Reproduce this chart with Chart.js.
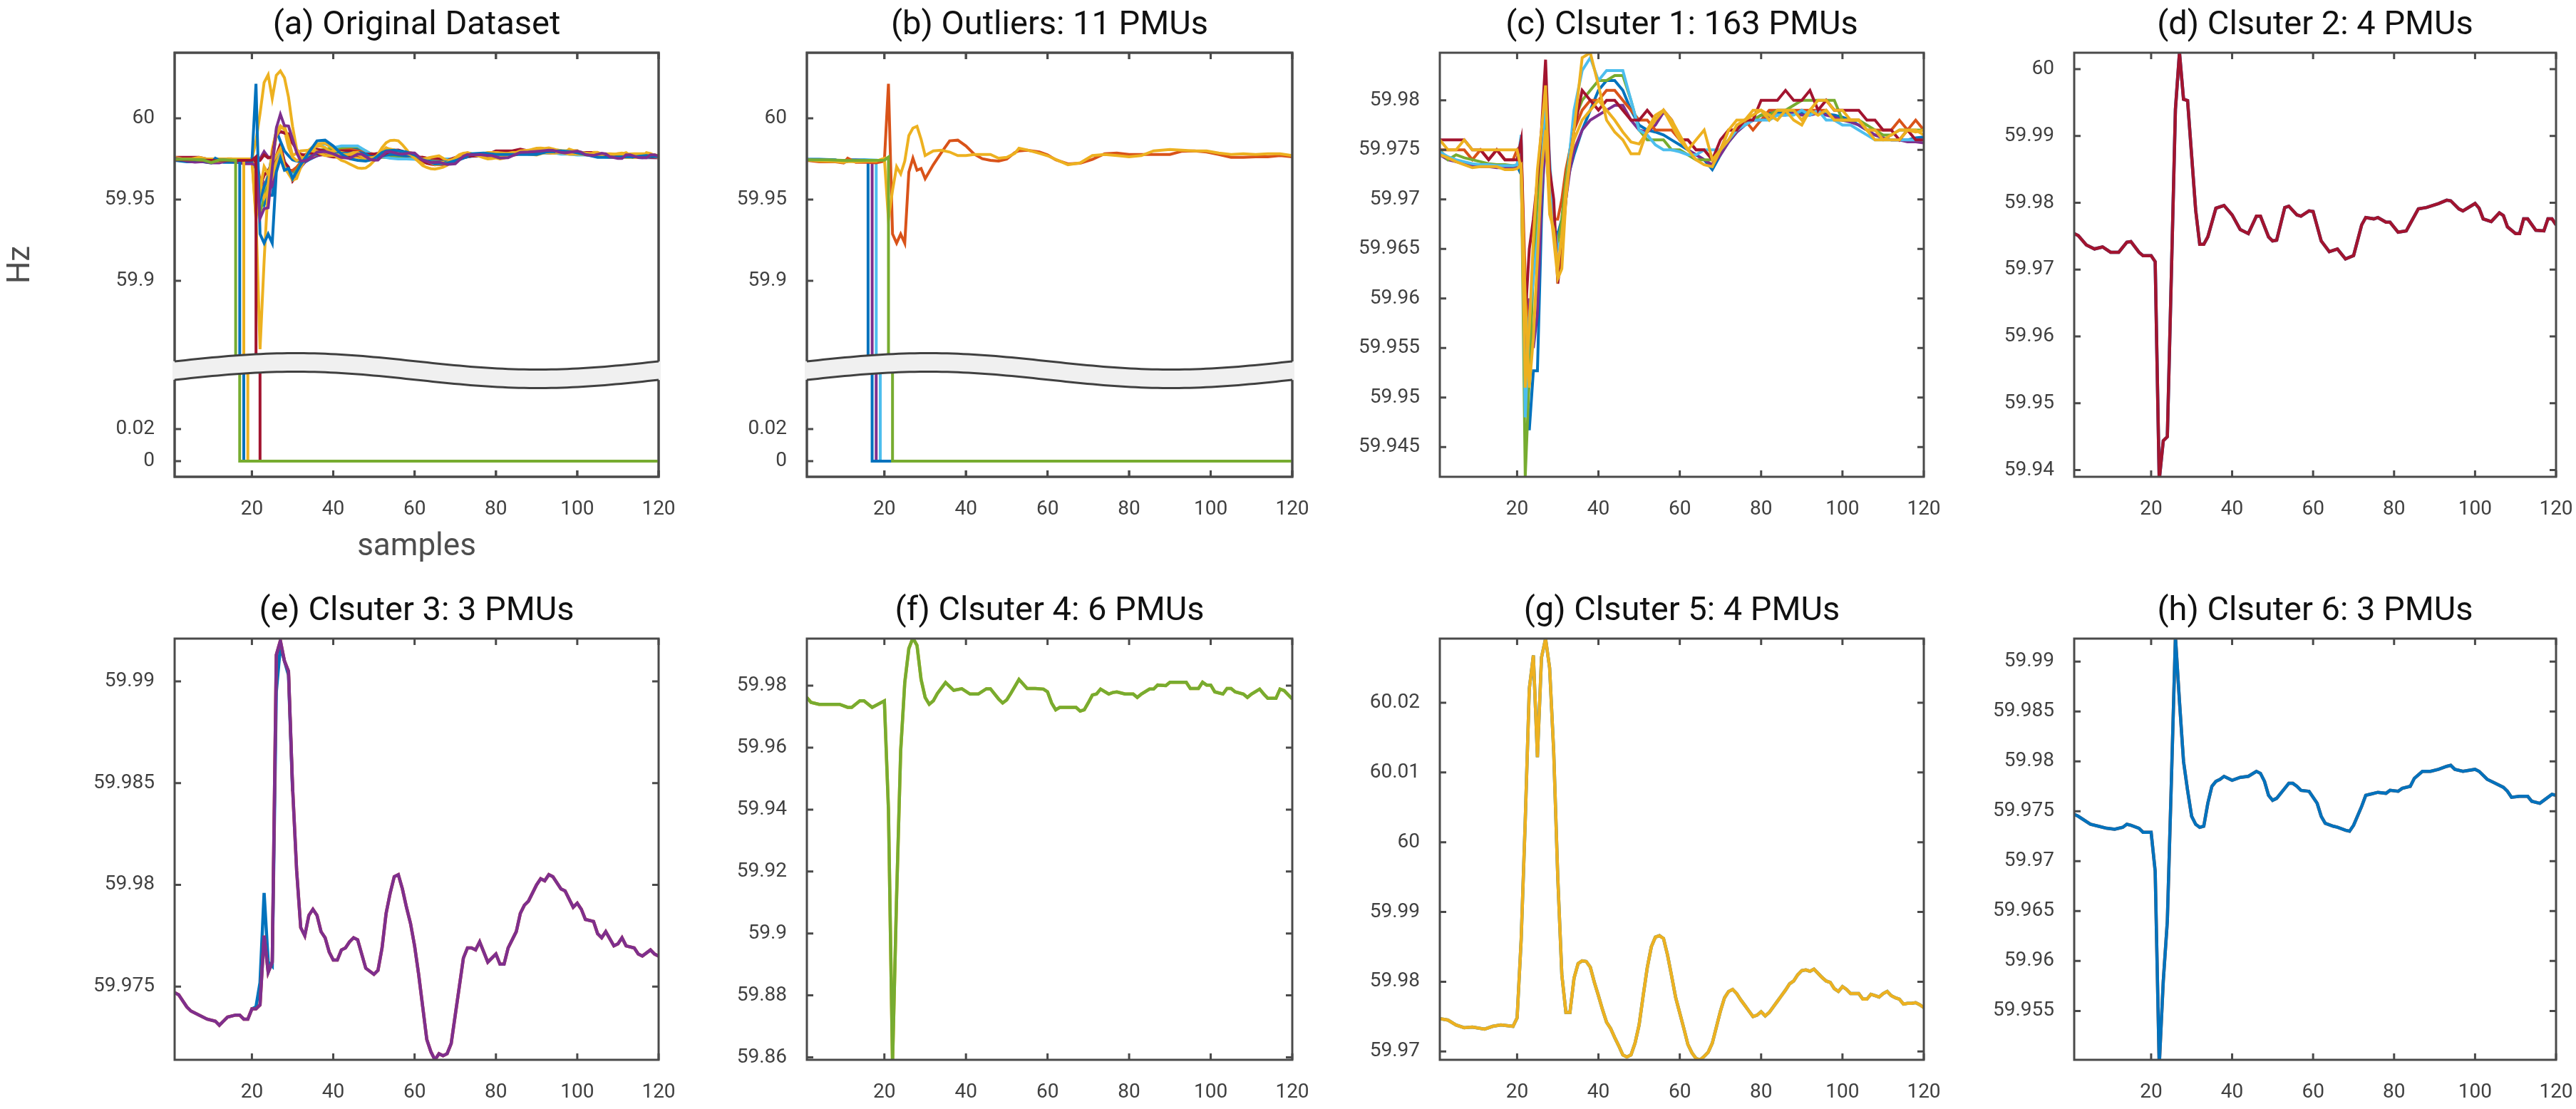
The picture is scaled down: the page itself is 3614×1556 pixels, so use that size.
<!DOCTYPE html>
<html>
<head>
<meta charset="utf-8">
<title>PMU clusters</title>
<script src="https://cdn.jsdelivr.net/npm/chart.js@4.4.1/dist/chart.umd.min.js"></script>
<style>
  body { margin: 0; background: #fff; width: 3614px; height: 1556px; position: relative; overflow: hidden; }
  canvas { position: absolute; }
</style>
</head>
<body>
<script>
// ---- tick labels ----
const sampleTicks = [20, 40, 60, 80, 100, 120];
const brokenUpperTicks = [59.9, 59.95, 60];
const brokenLowerTicks = [0, 0.02];
const clusterOneTicks = [59.945, 59.95, 59.955, 59.96, 59.965, 59.97, 59.975, 59.98];
const clusterTwoTicks = [59.94, 59.95, 59.96, 59.97, 59.98, 59.99, 60];
const clusterThreeTicks = [59.975, 59.98, 59.985, 59.99];
const clusterFourTicks = [59.86, 59.88, 59.9, 59.92, 59.94, 59.96, 59.98];
const clusterFiveTicks = [59.97, 59.98, 59.99, 60, 60.01, 60.02];
const clusterSixTicks = [59.955, 59.96, 59.965, 59.97, 59.975, 59.98, 59.985, 59.99];

const titles = ['(a) Original Dataset', '(b) Outliers: 11 PMUs', '(c) Clsuter 1: 163 PMUs', '(d) Clsuter 2: 4 PMUs',
  '(e) Clsuter 3: 3 PMUs', '(f) Clsuter 4: 6 PMUs', '(g) Clsuter 5: 4 PMUs', '(h) Clsuter 6: 3 PMUs'];

// ---- outliers (b) ----
const dropBlueX = [1, 4, 8, 10, 12, 16, 17, 120];
const dropBlueHz = [59.9748, 59.9748, 59.9745, 59.9728, 59.9745, 59.9742, 0, 0];
const dropPurpleX = [1, 5, 9, 13, 17, 18, 120];
const dropPurpleHz = [59.9746, 59.9745, 59.9738, 59.9744, 59.9741, 0, 0];
const dropCyanX = [1, 6, 11, 15, 18, 19, 120];
const dropCyanHz = [59.9747, 59.9746, 59.9736, 59.9746, 59.9743, 0, 0];
const dropGreenX = [1, 6, 11, 16, 20, 21, 22, 120];
const dropGreenHz = [59.9745, 59.9745, 59.974, 59.9742, 59.9743, 59.9762, 0, 0];

const outlierX = [1, 4, 8, 10, 11, 13, 16, 18, 20, 21, 22, 23, 24, 25, 26, 27, 28, 29, 30, 32, 34, 36, 38, 40, 42, 44, 46, 48, 50, 52, 53, 55, 58, 60, 62, 65, 68, 71, 74, 77, 80, 83, 86, 90, 93, 96, 99, 102, 105, 108, 111, 114, 117, 120];
const outlierRedHz = [59.9742, 59.9733, 59.9733, 59.9726, 59.9755, 59.973, 59.973, 59.9726, 59.9737, 60.0213, 59.9288, 59.9232, 59.9288, 59.9232, 59.967, 59.9755, 59.9681, 59.9692, 59.9629, 59.9715, 59.979, 59.9862, 59.9866, 59.983, 59.978, 59.9752, 59.9742, 59.9737, 59.975, 59.979, 59.98, 59.9804, 59.9793, 59.9775, 59.9745, 59.972, 59.9724, 59.9748, 59.9782, 59.9787, 59.9778, 59.9778, 59.9778, 59.9778, 59.9798, 59.98, 59.9793, 59.9778, 59.976, 59.976, 59.9764, 59.9764, 59.9771, 59.9764];
const outlierYellowHz = [59.9745, 59.9738, 59.9735, 59.973, 59.9735, 59.9733, 59.9737, 59.9737, 59.9755, 59.9378, 59.9557, 59.9703, 59.9658, 59.9737, 59.9894, 59.994, 59.9951, 59.9872, 59.9771, 59.98, 59.9804, 59.9793, 59.9771, 59.9771, 59.9778, 59.9778, 59.9778, 59.9755, 59.976, 59.9785, 59.9816, 59.9806, 59.9785, 59.977, 59.9748, 59.9715, 59.9726, 59.9771, 59.9778, 59.9771, 59.9764, 59.9771, 59.98, 59.9809, 59.9804, 59.98, 59.98, 59.9787, 59.9778, 59.9782, 59.9778, 59.9782, 59.9782, 59.9771];

// ---- cluster 1 (c), representative PMUs ----
const clusterOneX = [1, 3, 5, 7, 9, 11, 13, 15, 17, 19, 20, 21, 22, 23, 24, 25, 26, 27, 28, 29, 30, 31, 32, 33, 34, 36, 38, 40, 42, 44, 46, 48, 50, 52, 54, 56, 58, 60, 62, 64, 66, 68, 70, 72, 74, 76, 78, 80, 82, 84, 86, 88, 90, 92, 94, 96, 98, 100, 102, 104, 106, 108, 110, 112, 114, 116, 118, 120];
const clusterOneWineHz = [59.976, 59.976, 59.976, 59.976, 59.975, 59.975, 59.974, 59.975, 59.974, 59.974,
  59.974, 59.976, 59.958, 59.965, 59.968, 59.972, 59.977, 59.9841, 59.973, 59.970, 59.9615, 59.965, 59.970, 59.974, 59.977,
  59.981, 59.980, 59.979, 59.980, 59.980, 59.979, 59.978, 59.978, 59.979, 59.978, 59.979, 59.978, 59.976, 59.976, 59.975, 59.975, 59.974, 59.976, 59.977, 59.977,
  59.978, 59.978, 59.980, 59.980, 59.980, 59.981, 59.980, 59.980, 59.981, 59.979, 59.980, 59.979, 59.979, 59.979, 59.979, 59.978, 59.978, 59.977, 59.977, 59.976, 59.977, 59.976, 59.976];
const clusterOneYellowHz = [59.976, 59.975, 59.975, 59.976, 59.975, 59.975, 59.975, 59.975, 59.975, 59.975,
  59.975, 59.973, 59.951, 59.957, 59.966, 59.973, 59.977, 59.9815, 59.970, 59.966, 59.962, 59.963, 59.970, 59.974, 59.977,
  59.9843, 59.9848, 59.9815, 59.978, 59.9768, 59.976, 59.9746, 59.9746, 59.977, 59.9785, 59.979, 59.978, 59.9765, 59.975, 59.974, 59.9735, 59.9733, 59.975, 59.977, 59.978,
  59.978, 59.979, 59.979, 59.978, 59.979, 59.979, 59.978, 59.9775, 59.979, 59.9785, 59.979, 59.978, 59.978, 59.978, 59.978, 59.977, 59.976, 59.976, 59.9765, 59.977, 59.977, 59.9768, 59.977];
const clusterOneBlueHz = [59.9748, 59.9742, 59.9738, 59.9737, 59.9735, 59.9734, 59.9734, 59.9733, 59.9733, 59.9733,
  59.9734, 59.9725, 59.953, 59.9467, 59.9527, 59.9527, 59.968, 59.978, 59.972, 59.967, 59.9665, 59.968, 59.971, 59.973, 59.9745,
  59.977, 59.979, 59.981, 59.982, 59.982, 59.981, 59.979, 59.9775, 59.977, 59.9768, 59.9765, 59.976, 59.9755, 59.975, 59.9745, 59.974, 59.973, 59.9745, 59.9758, 59.9768,
  59.9775, 59.978, 59.9785, 59.9787, 59.9788, 59.9788, 59.9788, 59.9787, 59.9787, 59.9788, 59.9786, 59.9785, 59.9783, 59.978, 59.9775, 59.977, 59.9765, 59.9762, 59.976, 59.976, 59.976, 59.9762, 59.9763];
const clusterOneOrangeHz = [59.975, 59.975, 59.975, 59.975, 59.974, 59.975, 59.974, 59.975, 59.974, 59.974,
  59.975, 59.9755, 59.962, 59.955, 59.964, 59.972, 59.976, 59.979, 59.972, 59.968, 59.968, 59.970, 59.973, 59.975, 59.977,
  59.979, 59.980, 59.980, 59.981, 59.981, 59.980, 59.979, 59.978, 59.978, 59.977, 59.977, 59.977, 59.976, 59.976, 59.975, 59.975, 59.974, 59.975, 59.977, 59.977,
  59.978, 59.977, 59.978, 59.979, 59.979, 59.979, 59.979, 59.979, 59.979, 59.979, 59.979, 59.978, 59.978, 59.978, 59.978, 59.977, 59.977, 59.977, 59.977, 59.978, 59.977, 59.978, 59.977];
const clusterOneGreenHz = [59.975, 59.974, 59.9745, 59.9742, 59.974, 59.9738, 59.9736, 59.9735, 59.9735, 59.9734,
  59.9735, 59.9745, 59.942, 59.952, 59.963, 59.970, 59.9745, 59.977, 59.970, 59.967, 59.9655, 59.968, 59.972, 59.975, 59.978,
  59.980, 59.981, 59.982, 59.982, 59.9825, 59.9825, 59.980, 59.977, 59.976, 59.976, 59.976, 59.975, 59.975, 59.9745, 59.974, 59.974, 59.974, 59.975, 59.976, 59.977,
  59.978, 59.978, 59.9785, 59.9785, 59.979, 59.979, 59.9795, 59.980, 59.980, 59.980, 59.980, 59.980, 59.978, 59.978, 59.978, 59.9775, 59.977, 59.9765, 59.9765, 59.977, 59.977, 59.977, 59.977];
const clusterOnePurpleHz = [59.9745, 59.974, 59.9738, 59.9736, 59.9734, 59.9733, 59.9733, 59.9732, 59.9732, 59.9731,
  59.9732, 59.976, 59.955, 59.960, 59.955, 59.9585, 59.970, 59.976, 59.970, 59.9665, 59.966, 59.967, 59.970, 59.973, 59.975,
  59.977, 59.978, 59.9785, 59.979, 59.9795, 59.9795, 59.978, 59.977, 59.9768, 59.9775, 59.9788, 59.978, 59.976, 59.975, 59.9745, 59.974, 59.9735, 59.9745, 59.9758, 59.9768,
  59.9775, 59.978, 59.978, 59.9783, 59.9785, 59.9785, 59.9787, 59.9785, 59.9785, 59.9787, 59.9785, 59.9783, 59.978, 59.9778, 59.9775, 59.977, 59.9765, 59.9762, 59.976, 59.976, 59.9758, 59.9758, 59.9757];
const clusterOneCyanHz = [59.9748, 59.9743, 59.974, 59.9738, 59.9736, 59.9735, 59.9735, 59.9734, 59.9734, 59.9734,
  59.9735, 59.9765, 59.948, 59.958, 59.962, 59.966, 59.972, 59.9818, 59.974, 59.968, 59.965, 59.966, 59.970, 59.975, 59.979,
  59.983, 59.9843, 59.982, 59.983, 59.983, 59.983, 59.980, 59.977, 59.9765, 59.9755, 59.975, 59.975, 59.9748, 59.9745, 59.9745, 59.975, 59.975, 59.975, 59.976, 59.977,
  59.9775, 59.978, 59.978, 59.978, 59.9785, 59.9785, 59.9785, 59.979, 59.9785, 59.979, 59.978, 59.978, 59.9775, 59.9775, 59.977, 59.9765, 59.976, 59.976, 59.976, 59.976, 59.976, 59.976, 59.976];
const clusterOneAmberHz = [59.9745, 59.9742, 59.9738, 59.9735, 59.9732, 59.9733, 59.9733, 59.9733, 59.973, 59.973,
  59.9731, 59.9735, 59.960, 59.951, 59.956, 59.964, 59.973, 59.977, 59.9685, 59.967, 59.963, 59.9665, 59.971, 59.974, 59.976,
  59.978, 59.979, 59.980, 59.979, 59.978, 59.9768, 59.9758, 59.9756, 59.9768, 59.978, 59.979, 59.9775, 59.976, 59.975, 59.976, 59.977, 59.974, 59.975, 59.976, 59.9775,
  59.978, 59.9785, 59.979, 59.9785, 59.978, 59.979, 59.979, 59.978, 59.979, 59.980, 59.980, 59.979, 59.979, 59.978, 59.978, 59.977, 59.977, 59.976, 59.976, 59.976, 59.977, 59.977, 59.9765];

// ---- cluster 2 (d) ----
const clusterTwoX = [1, 2, 4, 6, 8, 10, 12, 14, 15, 17, 18, 20, 21, 22, 23, 24, 25, 26, 27, 28, 29, 31, 32, 33, 34, 36, 38, 40, 42, 44, 46, 47, 49, 50, 51, 53, 54, 56, 57, 59, 60, 62, 64, 66, 68, 70, 72, 73, 75, 76, 78, 79, 81, 83, 84, 86, 88, 91, 93, 94, 96, 97, 100, 101, 102, 104, 106, 107, 108, 110, 111, 112, 113, 115, 117, 118, 119, 120];
const clusterTwoHz = [59.9754, 59.9751, 59.9737, 59.9731, 59.9734, 59.9726, 59.9726, 59.9741, 59.9742, 59.9726,
  59.9721, 59.9721, 59.9712, 59.9385, 59.9444, 59.945, 59.9693, 59.994, 60.0025, 59.9955,
  59.9953, 59.9789, 59.9738, 59.9738, 59.9749, 59.9792, 59.9796, 59.9782, 59.976, 59.9754,
  59.978, 59.978, 59.9749, 59.9743, 59.9744, 59.9793, 59.9795, 59.9782, 59.978, 59.9788,
  59.9787, 59.9743, 59.9727, 59.9731, 59.9716, 59.9721, 59.9767, 59.9778, 59.9776, 59.9778,
  59.9771, 59.9771, 59.9756, 59.9758, 59.9769, 59.9791, 59.9793, 59.9799, 59.9804, 59.9803,
  59.9791, 59.9788, 59.9799, 59.9792, 59.9776, 59.9772, 59.9785, 59.9781, 59.9764, 59.9754,
  59.9754, 59.9776, 59.9776, 59.9759, 59.9758, 59.9776, 59.9776, 59.9767];

// ---- cluster 3 (e) ----
const clusterThreeX = [1, 2, 4, 5, 7, 9, 11, 12, 13, 14, 16, 17, 18, 19, 20, 21, 22, 23, 24, 25, 26, 27, 28, 29, 30, 31, 32, 33, 34, 35, 36, 37, 38, 39, 40, 41, 42, 43, 44, 45, 46, 47, 48, 50, 51, 52, 53, 54, 55, 56, 57, 58, 59, 60, 61, 62, 63, 64, 65, 66, 67, 68, 69, 70, 71, 72, 73, 74, 75, 76, 77, 78, 80, 81, 82, 83, 85, 86, 87, 88, 90, 91, 92, 93, 94, 96, 97, 99, 100, 101, 102, 104, 105, 106, 107, 109, 110, 111, 112, 114, 115, 116, 118, 119, 120];
const clusterThreeHz = [59.9747, 59.9746, 59.974, 59.9738, 59.9736, 59.9734, 59.9733, 59.9731, 59.9733, 59.9735,
  59.9736, 59.9736, 59.9734, 59.9734, 59.9739, 59.9739, 59.9741, 59.9775, 59.9757, 59.9762,
  59.9913, 59.992, 59.991, 59.9905, 59.9848, 59.9807, 59.9779, 59.9775, 59.9785, 59.9788,
  59.9785, 59.9777, 59.9774, 59.9767, 59.9763, 59.9763, 59.9768, 59.9769, 59.9772, 59.9774,
  59.9773, 59.9766, 59.9759, 59.9756, 59.9758, 59.9769, 59.9786, 59.9796, 59.9804, 59.9805,
  59.9798, 59.9789, 59.9781, 59.977, 59.9756, 59.974, 59.9724, 59.9718, 59.9714, 59.9717,
  59.9716, 59.9717, 59.9722, 59.9736, 59.975, 59.9764, 59.9769, 59.9769, 59.9768, 59.9772,
  59.9767, 59.9762, 59.9766, 59.9761, 59.9761, 59.9769, 59.9777, 59.9786, 59.979, 59.9792,
  59.98, 59.9803, 59.9802, 59.9805, 59.9804, 59.9798, 59.9797, 59.9789, 59.9791, 59.9788,
  59.9783, 59.9782, 59.9776, 59.9774, 59.9777, 59.977, 59.9771, 59.9774, 59.977, 59.9769,
  59.9766, 59.9765, 59.9768, 59.9766, 59.9765];
const clusterThreeBlueX = [20, 21, 22, 23, 24, 25, 26, 27, 28, 29, 30];
const clusterThreeBlueHz = [59.9739, 59.974, 59.9752, 59.9796, 59.9762, 59.976, 59.9895, 59.9917, 59.991, 59.9903, 59.9846];

// ---- cluster 4 (f) ----
const clusterFourX = [1, 2, 4, 9, 11, 12, 14, 15, 17, 18, 20, 21, 22, 23, 24, 25, 26, 27, 28, 29, 30, 31, 32, 33, 35, 37, 39, 41, 43, 45, 46, 48, 49, 50, 51, 53, 55, 57, 59, 60, 61, 62, 63, 67, 68, 69, 70, 71, 72, 73, 75, 76, 77, 79, 81, 82, 83, 85, 86, 87, 89, 90, 94, 95, 97, 98, 99, 100, 101, 103, 104, 105, 106, 108, 109, 110, 112, 113, 114, 116, 117, 118, 120];
const clusterFourHz = [59.9762, 59.9746, 59.974, 59.974, 59.973, 59.973, 59.9751, 59.9751, 59.973, 59.9737,
  59.9751, 59.94, 59.858, 59.912, 59.959, 59.981, 59.992, 59.9954, 59.993, 59.982,
  59.9762, 59.974, 59.9751, 59.9775, 59.981, 59.9785, 59.979, 59.9773, 59.9773, 59.979,
  59.979, 59.9757, 59.9744, 59.9754, 59.9775, 59.982, 59.9791, 59.9791, 59.9789, 59.978,
  59.9744, 59.9722, 59.973, 59.973, 59.9718, 59.9722, 59.9745, 59.977, 59.9773, 59.9789,
  59.9773, 59.9778, 59.978, 59.9773, 59.9773, 59.9762, 59.9773, 59.9789, 59.9789, 59.9802,
  59.98, 59.9811, 59.9811, 59.9791, 59.9791, 59.9811, 59.9802, 59.9802, 59.978, 59.9773,
  59.9791, 59.9791, 59.978, 59.9773, 59.9762, 59.9773, 59.9789, 59.9773, 59.9759, 59.9759,
  59.9789, 59.9784, 59.9757];

// ---- cluster 5 (g) ----
const clusterFiveX = [1, 3, 5, 7, 9, 10, 12, 14, 16, 19,
  20, 21, 22, 23, 24, 25, 26, 27, 28, 29, 30, 31, 32, 33, 34, 35, 36, 37, 38, 39,
  40, 41, 42, 43, 44, 45, 46, 47, 48, 49, 50, 51, 52, 53, 54, 55, 56, 57, 58, 59,
  60, 61, 62, 63, 64, 65, 66, 67, 68, 69, 70, 71, 72, 73, 74, 75, 76, 77, 78, 79,
  80, 81, 82, 84, 85, 86, 87, 88, 89, 90, 91, 92, 93, 94, 95, 96, 97, 98, 99, 100,
  101, 102, 103, 104, 105, 106, 107, 108, 109, 110, 111, 112, 113, 114, 115, 116, 117, 118, 119, 120];
const clusterFiveHz = [59.9747, 59.9745, 59.9738, 59.9734, 59.9735, 59.9734, 59.9732, 59.9736, 59.9738, 59.9736,
  59.9748, 59.986, 60.003, 60.022, 60.0268, 60.0122, 60.0265, 60.0292, 60.025, 60.013, 59.995, 59.981, 59.9756, 59.9756, 59.9805, 59.9826, 59.983, 59.9829, 59.9821, 59.9799,
  59.978, 59.976, 59.9742, 59.9733, 59.972, 59.9708, 59.9695, 59.9692, 59.9695, 59.9712, 59.9738, 59.978, 59.982, 59.985, 59.9864, 59.9866, 59.9862, 59.9838, 59.9808, 59.9777,
  59.9755, 59.9733, 59.971, 59.9698, 59.969, 59.9688, 59.9693, 59.9699, 59.9712, 59.9735, 59.9758, 59.9777, 59.9786, 59.9789, 59.9783, 59.9774, 59.9766, 59.9758, 59.975, 59.9752,
  59.9757, 59.9751, 59.9756, 59.9772, 59.978, 59.9788, 59.9797, 59.9801, 59.981, 59.9816, 59.9817, 59.9815, 59.9818, 59.9812, 59.9806, 59.9801, 59.9799, 59.979, 59.9786, 59.9793,
  59.9789, 59.9783, 59.9783, 59.9783, 59.9775, 59.9775, 59.9782, 59.978, 59.9778, 59.9783, 59.9786, 59.978, 59.9777, 59.9775, 59.9768, 59.9769, 59.9769, 59.977, 59.9767, 59.9763];

// ---- cluster 6 (h) ----
const clusterSixX = [1, 2, 5, 7, 9, 11, 13, 14, 15, 17, 18, 20, 21, 22, 23, 24, 25, 26, 27, 28, 29, 30, 31, 32, 33, 34, 35, 36, 37, 38, 40, 42, 44, 46, 47, 48, 49, 50, 51, 53, 54, 55, 56, 57, 59, 61, 62, 63, 65, 66, 68, 69, 70, 72, 73, 74, 76, 78, 79, 81, 82, 84, 85, 87, 89, 91, 93, 94, 95, 97, 100, 101, 103, 105, 107, 108, 109, 111, 113, 114, 116, 117, 119, 120];
const clusterSixHz = [59.9747, 59.9745, 59.9737, 59.9735, 59.9733, 59.9732, 59.9734, 59.9737, 59.9736, 59.9733,
  59.9729, 59.9729, 59.969, 59.9495, 59.958, 59.964, 59.978, 59.9925, 59.986, 59.980,
  59.9771, 59.9745, 59.9737, 59.9734, 59.9735, 59.9758, 59.9775, 59.978, 59.9782, 59.9785,
  59.9781, 59.9784, 59.9785, 59.979, 59.9788, 59.978, 59.9766, 59.9761, 59.9763, 59.9773,
  59.9778, 59.9778, 59.9775, 59.9771, 59.977, 59.9758, 59.9745, 59.9738, 59.9735, 59.9734,
  59.9731, 59.973, 59.9736, 59.9755, 59.9766, 59.9767, 59.9769, 59.9768, 59.9771, 59.977,
  59.9773, 59.9775, 59.9783, 59.979, 59.979, 59.9792, 59.9795, 59.9796, 59.9792, 59.979,
  59.9792, 59.979, 59.9782, 59.9778, 59.9774, 59.977, 59.9764, 59.9765, 59.9765, 59.976,
  59.9758, 59.9761, 59.9767, 59.9766];

// ---- layout ----
const C = { blue: '#0072BD', orange: '#D95319', yellow: '#EDB120', purple: '#7E2F8E', green: '#77AC30', cyan: '#4DBEEE', wine: '#A2142F' };
const ROW1 = { top: 74, bottom: 669, xH: 125 };
const ROW2 = { top: 896, bottom: 1487, xH: 60 };
const COLS = [[245, 924], [1132, 1813], [2020, 2699], [2910, 3586]];
const TITLE_H = 74, PAD_R = 40, TICK = 9;
const BREAK_AT = 446; // px below the top of the broken axes where upper and lower halves meet

Chart.defaults.font.family = 'Roboto, sans-serif';

function toPoints(xs, ys) {
  return xs.map((x, i) => ({ x: x, y: ys[i] }));
}

function line(xs, ys, color, width, clip) {
  const ds = { data: toPoints(xs, ys), borderColor: color, borderWidth: width, pointRadius: 0, fill: false, tension: 0 };
  if (clip) ds.clip = clip;
  return ds;
}

const boxPlugin = {
  id: 'matlabBox',
  afterDatasetsDraw(chart, args, opts) {
    const { ctx, chartArea: a, scales } = chart;
    ctx.save();
    ctx.strokeStyle = '#4a4a4a';
    ctx.lineWidth = 3;
    ctx.strokeRect(a.left, a.top, a.right - a.left, a.bottom - a.top);
    ctx.beginPath();
    scales.x.ticks.forEach(t => {
      const px = scales.x.getPixelForValue(t.value);
      ctx.moveTo(px, a.top); ctx.lineTo(px, a.top + TICK);
      ctx.moveTo(px, a.bottom); ctx.lineTo(px, a.bottom - TICK);
    });
    scales.y.ticks.forEach(t => {
      const py = scales.y.getPixelForValue(t.value);
      ctx.moveTo(a.left, py); ctx.lineTo(a.left + TICK, py);
      if (opts.rightTicks) { ctx.moveTo(a.right, py); ctx.lineTo(a.right - TICK, py); }
    });
    ctx.stroke();
    ctx.restore();
  }
};

// wavy band that marks the broken y axis
const breakPlugin = {
  id: 'axisBreak',
  afterDraw(chart, args, opts) {
    if (!opts.show) return;
    const { ctx, chartArea: a } = chart;
    const x0 = a.left - 3, w = a.right - a.left + 6;
    const yTop = a.top + 433, gap = 26, amp = 11.5, n = 90;
    const yAt = (t, off) => yTop + off - amp * Math.sin(2 * Math.PI * t);
    ctx.save();
    ctx.beginPath();
    for (let i = 0; i <= n; i++) { const t = i / n; ctx.lineTo(x0 + t * w, yAt(t, 0)); }
    for (let i = n; i >= 0; i--) { const t = i / n; ctx.lineTo(x0 + t * w, yAt(t, gap)); }
    ctx.closePath();
    ctx.fillStyle = '#f0f0f0';
    ctx.fill();
    ctx.strokeStyle = '#404040';
    ctx.lineWidth = 3;
    [0, gap].forEach(off => {
      ctx.beginPath();
      for (let i = 0; i <= n; i++) { const t = i / n; ctx.lineTo(a.left + t * (a.right - a.left), yAt(t, off)); }
      ctx.stroke();
    });
    ctx.restore();
  }
};

function makeChart(p) {
  const row = p.row, [l, r] = COLS[p.col];
  const yW = p.yW || 140;
  const w = yW + (r - l) + PAD_R;
  const h = TITLE_H + (row.bottom - row.top) + row.xH;
  const canvas = document.createElement('canvas');
  canvas.width = w; canvas.height = h;
  canvas.style.left = (l - yW) + 'px';
  canvas.style.top = (row.top - TITLE_H) + 'px';
  canvas.style.width = w + 'px'; canvas.style.height = h + 'px';
  document.body.appendChild(canvas);

  // Chart.js paints dataset 0 last, so reverse to keep the later series on top
  const sets = p.datasets.slice().reverse();

  new Chart(canvas, {
    type: 'line',
    data: { datasets: sets },
    options: {
      responsive: false,
      animation: false,
      events: [],
      layout: { padding: { left: 0, right: PAD_R, top: p.title ? 0 : TITLE_H, bottom: 0 } },
      plugins: {
        legend: { display: false },
        tooltip: { enabled: false },
        title: p.title ? {
          display: true, text: p.title, color: '#111', fullSize: false,
          font: { size: 47, lineHeight: 1, weight: 'normal' }, padding: { top: 13, bottom: 14 }
        } : { display: false },
        matlabBox: { rightTicks: p.rightTicks !== false },
        axisBreak: { show: !!p.band }
      },
      scales: {
        x: {
          type: 'linear', min: 1, max: 120,
          afterBuildTicks: s => { s.ticks = sampleTicks.map(v => ({ value: v })); },
          afterFit: s => { s.height = row.xH; s.paddingLeft = 0; s.paddingRight = 0; },
          grid: { display: false }, border: { display: false },
          ticks: { display: p.xLabels !== false, padding: 21, color: '#404040', font: { size: 28, lineHeight: 1.2 }, maxRotation: 0, autoSkip: false },
          title: p.xTitle ? { display: true, text: p.xTitle, color: '#4d4d4d', font: { size: 44, lineHeight: 1.2 }, padding: { top: 0, bottom: 0 } } : { display: false }
        },
        y: {
          type: 'linear', min: p.yMin, max: p.yMax,
          afterBuildTicks: s => { s.ticks = p.yTicks.map(v => ({ value: v })); },
          afterFit: s => { s.width = yW; s.paddingTop = 0; s.paddingBottom = 0; },
          grid: { display: false }, border: { display: false },
          ticks: { padding: 20, color: '#404040', font: { size: 28, lineHeight: 1.2 }, autoSkip: false, callback: v => String(v) },
          title: p.yTitle ? { display: true, text: p.yTitle, color: '#4d4d4d', font: { size: 44, lineHeight: 1.2 }, padding: { top: 4, bottom: 0 } } : { display: false }
        }
      }
    },
    plugins: [boxPlugin, breakPlugin]
  });
}

// clip rectangles for the two halves of a broken axis
const upperClip = { left: 0, right: 0, top: 0, bottom: -((ROW1.bottom - ROW1.top) - BREAK_AT) };
const lowerClip = { left: 0, right: 0, bottom: 0, top: -BREAK_AT };
const UPPER = { yMin: 59.7794, yMax: 60.0404, yTicks: brokenUpperTicks };
const LOWER = { yMin: -0.00978, yMax: 0.25467, yTicks: brokenLowerTicks };

// (a) original dataset: every PMU series together
function originalSets(clip, onlyDrops) {
  const wa = 4;
  const drops = [
    line(dropPurpleX, dropPurpleHz, C.blue, wa, clip),
    line(dropCyanX, dropCyanHz, C.yellow, wa, clip),
    line(dropGreenX, dropGreenHz, C.wine, wa, clip),
    line(dropBlueX, dropBlueHz, C.green, wa, clip)
  ];
  if (onlyDrops) return drops;
  return [
    line(clusterOneX, clusterOneBlueHz, C.blue, wa, clip),
    line(clusterOneX, clusterOnePurpleHz, C.purple, wa, clip),
    line(clusterOneX, clusterOneOrangeHz, C.orange, wa, clip),
    line(clusterOneX, clusterOneGreenHz, C.green, wa, clip),
    line(clusterOneX, clusterOneCyanHz, C.cyan, wa, clip),
    line(clusterOneX, clusterOneWineHz, C.wine, wa, clip),
    line(clusterOneX, clusterOneAmberHz, C.yellow, wa, clip),
    line(clusterOneX, clusterOneYellowHz, C.yellow, wa, clip),
    line(clusterSixX, clusterSixHz, C.blue, wa, clip),
    line(clusterFourX, clusterFourHz, C.yellow, wa, clip),
    line(clusterThreeBlueX, clusterThreeBlueHz, C.purple, wa, clip),
    line(clusterThreeX, clusterThreeHz, C.wine, wa, clip),
    line(clusterFiveX, clusterFiveHz, C.yellow, wa, clip),
    line(outlierX, outlierYellowHz, C.yellow, wa, clip),
    line(outlierX, outlierRedHz, C.blue, wa, clip),
    line(clusterTwoX, clusterTwoHz, C.purple, wa, clip)
  ].concat(drops);
}

function outlierSets(clip, onlyDrops) {
  const wb = 4;
  const lead = [
    line(dropPurpleX, dropPurpleHz, C.purple, wb, clip),
    line(dropCyanX, dropCyanHz, C.cyan, wb, clip),
    line(dropBlueX, dropBlueHz, C.blue, wb, clip)
  ];
  const mid = onlyDrops ? [] : [
    line(outlierX, outlierRedHz, C.orange, wb, clip),
    line(outlierX, outlierYellowHz, C.yellow, wb, clip)
  ];
  return lead.concat(mid, [line(dropGreenX, dropGreenHz, C.green, wb, clip)]);
}

// row 1
makeChart(Object.assign({ col: 0, row: ROW1, yW: 245, title: titles[0], xLabels: false, rightTicks: false, datasets: originalSets(upperClip, false) }, UPPER));
makeChart(Object.assign({ col: 0, row: ROW1, yW: 245, rightTicks: false, band: true, xTitle: 'samples', yTitle: 'Hz', datasets: originalSets(lowerClip, true) }, LOWER));
makeChart(Object.assign({ col: 1, row: ROW1, title: titles[1], xLabels: false, rightTicks: false, datasets: outlierSets(upperClip, false) }, UPPER));
makeChart(Object.assign({ col: 1, row: ROW1, rightTicks: false, band: true, datasets: outlierSets(lowerClip, true) }, LOWER));

makeChart({
  col: 2, row: ROW1, title: titles[2], yMin: 59.942, yMax: 59.9848, yTicks: clusterOneTicks,
  datasets: [
    line(clusterOneX, clusterOneBlueHz, C.blue, 4),
    line(clusterOneX, clusterOnePurpleHz, C.purple, 4),
    line(clusterOneX, clusterOneOrangeHz, C.orange, 4),
    line(clusterOneX, clusterOneGreenHz, C.green, 4),
    line(clusterOneX, clusterOneCyanHz, C.cyan, 4),
    line(clusterOneX, clusterOneWineHz, C.wine, 4),
    line(clusterOneX, clusterOneAmberHz, C.yellow, 4),
    line(clusterOneX, clusterOneYellowHz, C.yellow, 4)
  ]
});
makeChart({
  col: 3, row: ROW1, title: titles[3], yMin: 59.939, yMax: 60.00246, yTicks: clusterTwoTicks,
  datasets: [line(clusterTwoX, clusterTwoHz, C.blue, 4.5), line(clusterTwoX, clusterTwoHz, C.wine, 4.5)]
});

// row 2
makeChart({
  col: 0, row: ROW2, title: titles[4], yMin: 59.9714, yMax: 59.9921, yTicks: clusterThreeTicks,
  datasets: [
    line(clusterThreeBlueX, clusterThreeBlueHz, C.blue, 4.5),
    line(clusterThreeX, clusterThreeHz, C.orange, 4.5),
    line(clusterThreeX, clusterThreeHz, C.purple, 4.5)
  ]
});
makeChart({
  col: 1, row: ROW2, title: titles[5], yMin: 59.8592, yMax: 59.9952, yTicks: clusterFourTicks,
  datasets: [line(clusterFourX, clusterFourHz, C.yellow, 4.5), line(clusterFourX, clusterFourHz, C.green, 4.5)]
});
makeChart({
  col: 2, row: ROW2, title: titles[6], yMin: 59.9688, yMax: 60.0292, yTicks: clusterFiveTicks,
  datasets: [line(clusterFiveX, clusterFiveHz, C.blue, 4.5), line(clusterFiveX, clusterFiveHz, C.yellow, 4.5)]
});
makeChart({
  col: 3, row: ROW2, title: titles[7], yMin: 59.9501, yMax: 59.9923, yTicks: clusterSixTicks,
  datasets: [line(clusterSixX, clusterSixHz, C.orange, 4.5), line(clusterSixX, clusterSixHz, C.blue, 4.5)]
});
</script>
</body>
</html>
